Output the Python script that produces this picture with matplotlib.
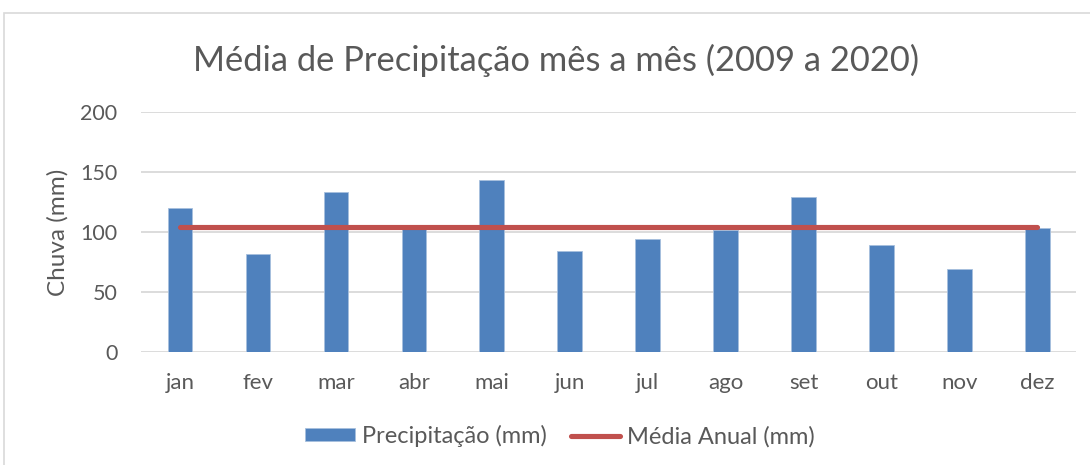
import matplotlib.pyplot as plt
from matplotlib.patches import Rectangle

meses = ["jan", "fev", "mar", "abr", "mai", "jun", "jul", "ago", "set", "out", "nov", "dez"]
precipitacao = [120, 82, 133, 103, 143, 84, 94, 102, 129, 89, 69.5, 103]
media_anual = [104.5] * 12
y_ticks = [0, 50, 100, 150, 200]

plt.rcParams['font.family'] = ['Lato', 'DejaVu Sans']
texto = "#595959"

fig = plt.figure(figsize=(10.9, 4.65), dpi=100)
# borda do grafico
fig.patches.append(Rectangle((0.004, -0.1), 1.2, 1.073, transform=fig.transFigure,
                             fill=False, edgecolor="#D9D9D9", linewidth=1.2))

ax = fig.add_axes([0.1294, 0.243, 0.858, 0.516])
x = list(range(len(meses)))
ax.bar(x, precipitacao, width=0.315, color="#4F81BD", edgecolor="#A7C0DE", linewidth=0.6,
       label="Precipitação (mm)", zorder=2)
ax.plot(x, media_anual, color="#C0504D", linewidth=3.7, solid_capstyle="round",
        label="Média Anual (mm)", zorder=3)

ax.set_xlim(-0.5, 11.5)
ax.set_ylim(0, 200)
ax.set_yticks(y_ticks)
ax.set_xticks(x)
ax.set_xticklabels(meses)
ax.tick_params(axis="both", length=0, colors=texto)
ax.tick_params(axis="x", pad=15, labelsize=16)
ax.tick_params(axis="y", pad=17, labelsize=15.5)
ax.yaxis.grid(True, color="#D9D9D9", linewidth=1.3, zorder=0)
for s in ax.spines.values():
    s.set_visible(False)
ax.set_ylabel("Chuva (mm)", fontsize=17.5, color=texto, labelpad=8)

fig.text(0.510, 0.871, "Média de Precipitação mês a mês (2009 a 2020)", ha="center", va="center",
         fontsize=24.8, color=texto)

handles, labels = ax.get_legend_handles_labels()
ordem = [1, 0]
leg = fig.legend([handles[i] for i in ordem], [labels[i] for i in ordem],
                 loc="center", bbox_to_anchor=(0.514, 0.062), ncol=2, frameon=False,
                 fontsize=17, handlelength=2.1, handleheight=0.45, columnspacing=1.0,
                 handletextpad=0.3)
for t in leg.get_texts():
    t.set_color(texto)

fig.savefig("out.png", dpi=100)
